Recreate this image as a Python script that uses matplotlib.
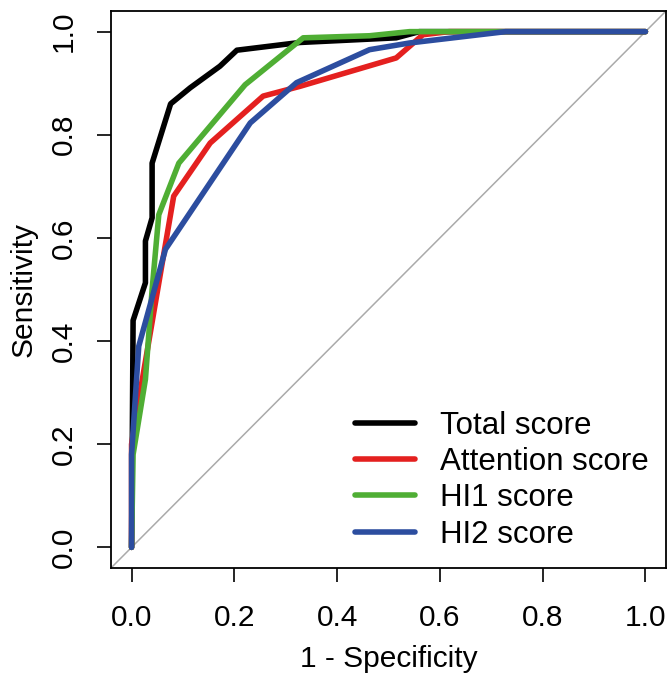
import matplotlib
matplotlib.use("Agg")
import matplotlib.pyplot as plt

plt.rcParams['font.family'] = ['Liberation Sans', 'DejaVu Sans']

# ROC curves (1 - specificity, sensitivity)
total_x = [0, 0.003, 0.027, 0.027, 0.040, 0.040, 0.076, 0.114, 0.172, 0.205, 0.328, 0.515, 0.56, 1.0]
total_y = [0, 0.44, 0.513, 0.594, 0.639, 0.745, 0.860, 0.891, 0.933, 0.964, 0.979, 0.988, 1.0, 1.0]

attention_x = [0, 0, 0.021, 0.082, 0.153, 0.256, 0.328, 0.515, 0.567, 0.618, 1.0]
attention_y = [0, 0.2, 0.326, 0.681, 0.784, 0.875, 0.894, 0.949, 0.994, 1.0, 1.0]

hi1_x = [0, 0.003, 0.027, 0.040, 0.053, 0.092, 0.221, 0.334, 0.463, 0.541, 1.0]
hi1_y = [0, 0.18, 0.326, 0.5, 0.645, 0.745, 0.897, 0.988, 0.992, 1.0, 1.0]

hi2_x = [0, 0, 0.014, 0.066, 0.231, 0.321, 0.463, 0.541, 0.728, 1.0]
hi2_y = [0, 0.18, 0.39, 0.578, 0.823, 0.901, 0.965, 0.978, 1.0, 1.0]

labels = ['Total score', 'Attention score', 'HI1 score', 'HI2 score']
colors = ['black', '#e4201f', '#4fae34', '#2c4d9f']
ticks = [0.0, 0.2, 0.4, 0.6, 0.8, 1.0]

fig = plt.figure(figsize=(6.7, 6.75), dpi=100)
ax = fig.add_axes([111 / 670, 1 - 568 / 675, 555 / 670, 557 / 675])

# reference diagonal
ax.plot([-0.04, 1.04], [-0.04, 1.04], color='#aaaaaa', lw=1.1, zorder=1)

curves = [(total_x, total_y), (attention_x, attention_y), (hi1_x, hi1_y), (hi2_x, hi2_y)]
for (xs, ys), c, lab in zip(curves, colors, labels):
    ax.plot(xs, ys, color=c, lw=4, label=lab,
            solid_capstyle='round', solid_joinstyle='round', zorder=2)

ax.set_xlim(-0.04, 1.04)
ax.set_ylim(-0.04, 1.04)
ax.set_xticks(ticks)
ax.set_yticks(ticks)
ax.set_xticklabels(['%.1f' % t for t in ticks])
ax.set_yticklabels(['%.1f' % t for t in ticks], rotation=90, va='center')
ax.tick_params(direction='out', length=10, width=1.2, labelsize=21.5)
ax.tick_params(axis='x', pad=16)
ax.tick_params(axis='y', pad=14)
for s in ax.spines.values():
    s.set_linewidth(1.3)

ax.set_xlabel('1 - Specificity', fontsize=21.5, labelpad=9)
ax.set_ylabel('Sensitivity', fontsize=21.5, labelpad=9)

ax.legend(loc='upper left', bbox_to_anchor=(0.44, 0.282), frameon=False,
          fontsize=22.5, handlelength=1.9, handletextpad=0.8,
          labelspacing=0.2, borderpad=0, borderaxespad=0)

fig.savefig('out.png', dpi=100)
